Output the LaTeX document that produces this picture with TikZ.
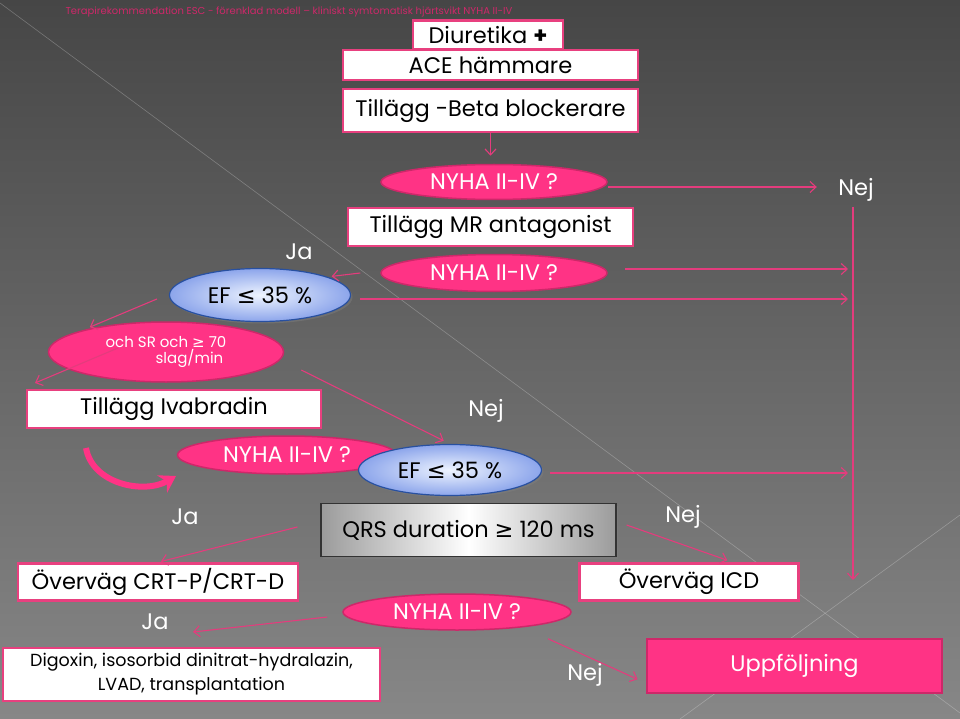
\documentclass[tikz,border=0pt]{standalone}
\usepackage{fontspec}
\setmainfont{Poppins}
\newfontfamily\symfont{DejaVu Sans}
\usetikzlibrary{shapes.geometric,arrows.meta,shadows}
\definecolor{bgtop}{RGB}{70,70,70}
\definecolor{bgbot}{RGB}{135,135,135}
\definecolor{boxpink}{RGB}{232,64,127}
\definecolor{qpink}{RGB}{255,51,133}
\definecolor{qedge}{RGB}{205,40,105}
\definecolor{arrpink}{RGB}{228,60,125}
\definecolor{titlepink}{RGB}{205,40,105}
\definecolor{efblue}{RGB}{40,80,160}
\definecolor{efin}{RGB}{238,244,255}
\definecolor{efout}{RGB}{140,165,235}
\definecolor{qrsgray}{RGB}{155,155,155}
\newcommand{\symle}{{\symfont ≤}}
\newcommand{\symge}{{\symfont ≥}}
\begin{document}
\begin{tikzpicture}[x=1pt,y=-1pt,
  txt/.style={font=\fontsize{22.5}{25}\selectfont},
  box/.style={txt, draw=boxpink, line width=2.5pt, fill=white, text=black, inner sep=0pt},
  quest/.style={txt, ellipse, draw=qedge, line width=1.5pt, fill=qpink, text=white, inner sep=0pt},
  efell/.style={txt, ellipse, draw=efblue, line width=1.2pt, inner color=efin, outer color=efout, inner sep=0pt,
    drop shadow={opacity=0.45, shadow xshift=2pt, shadow yshift=-2pt}},
  lab/.style={txt, text=white},
  arr/.style={draw=arrpink, line width=1.1pt, -{Straight Barb[length=6pt,width=11pt]}},
  bigarr/.style={draw=qpink, line width=6pt, -{Stealth[length=16pt,width=20pt]}},
  bgline/.style={draw=white, opacity=0.25, line width=0.6pt}]
\useasboundingbox (0,0) rectangle (960,719);
\shade[top color=bgtop, bottom color=bgbot] (0,0) rectangle (960,719);
\draw[bgline] (0,3) -- (960,713);
\draw[bgline] (680,719) -- (960,515);
\draw (62, 12) node[anchor=west, text=titlepink, font=\fontsize{10}{12}\selectfont] (title) {Terapirekommendation ESC -  förenklad modell – kliniskt symtomatisk hjärtsvikt NYHA II-IV};
\draw (488, 35) node[box, minimum width=150pt, minimum height=29pt] (diur) {Diuretika \textbf{+}};
\draw (490.5, 65) node[box, minimum width=295pt, minimum height=30pt] (ace) {ACE hämmare};
\draw (490.5, 110.5) node[box, minimum width=295pt, minimum height=43pt] (beta) {Tillägg -Beta blockerare};
\draw (494, 182) node[quest, minimum width=226pt, minimum height=35pt] (nyha1) {NYHA II-IV ?};
\draw (490.5, 227) node[box, minimum width=285pt, minimum height=38pt] (mr) {Tillägg MR antagonist};
\draw (494, 273) node[quest, minimum width=226pt, minimum height=37pt] (nyha2) {NYHA II-IV ?};
\draw (260, 295) node[efell, minimum width=181pt, minimum height=53pt] (ef1) {EF \symle\ 35 \%};
\draw (166, 352) node[quest, minimum width=235pt, minimum height=60pt, align=left, font=\fontsize{15}{16}\selectfont] (sr) {och SR och \symge\ 70\\\hspace*{50pt}slag/min};
\draw (174, 409) node[box, minimum width=294pt, minimum height=38pt] (ivab) {Tillägg Ivabradin};
\draw (287, 455) node[quest, minimum width=219pt, minimum height=38pt] (nyha3) {NYHA II-IV ?};
\draw (450, 470) node[efell, minimum width=183pt, minimum height=51pt] (ef2) {EF \symle\ 35 \%};
\draw (468.5, 530) node[box, draw=black!80, line width=1.2pt, left color=qrsgray, right color=qrsgray, middle color=white,
  drop shadow={opacity=0.5, shadow xshift=2pt, shadow yshift=-2pt}, minimum width=295pt, minimum height=53pt] (qrs) {QRS duration \symge\ 120 ms};
\draw (158, 582) node[box, minimum width=280pt, minimum height=37pt] (crt) {Överväg CRT-P/CRT-D};
\draw (689, 582) node[box, minimum width=219pt, minimum height=37pt] (icd) {Överväg ICD};
\draw (457, 612) node[quest, minimum width=228pt, minimum height=36pt] (nyha4) {NYHA II-IV ?};
\draw (191.5, 674.5) node[box, minimum width=377pt, minimum height=53pt, align=center, font=\fontsize{17.5}{24}\selectfont] (dig) {Digoxin, isosorbid dinitrat-hydralazin,\\LVAD, transplantation};
\draw (794.5, 666) node[box, draw=qedge, fill=qpink, text=white, minimum width=295pt, minimum height=54pt] (uppf) {Uppföljning};
\draw (856, 190) node[lab] (nej1) {Nej};
\draw (299, 252) node[lab] (ja1) {Ja};
\draw (486, 411) node[lab] (nej2) {Nej};
\draw (185, 517) node[lab] (ja2) {Ja};
\draw (683, 517) node[lab] (nej3) {Nej};
\draw (155, 622) node[lab] (ja3) {Ja};
\draw (585, 675) node[lab] (nej4) {Nej};
\coordinate (bus) at (853, 207);
\coordinate (busend) at (853, 580);
\coordinate (cstart) at (86, 448);
\coordinate (cend) at (176, 476);
\coordinate (ivend) at (35, 383);
\coordinate (jaend) at (193, 632);
\draw[arr, shorten >=8pt] (beta.south) -- (beta.south |- nyha1.north);
\draw[arr, shorten >=18pt] (nyha1.east) ++(0,5) coordinate (s1) -- (s1 -| nej1.west);
\draw[arr, shorten >=5pt] (nyha2.east) ++(17,-4) coordinate (s2) -- (s2 -| bus);
\draw[arr, shorten >=5pt] (ef1.east) ++(9,4) coordinate (s3) -- (s3 -| bus);
\draw[arr, shorten >=5pt] (ef2.east) ++(8,3) coordinate (s4) -- (s4 -| bus);
\draw[arr] (bus) -- (busend);
\draw[arr, shorten >=4pt] (nyha2.west) ++(-20,0) -- (ef1.15);
\draw[arr, shorten >=8pt] (ef1.west) ++(-12,4) -- (sr.north west);
\draw[arr] (sr.center) ++(-48,-4) -- (ivend);
\draw[arr, shorten >=7pt] (sr.east) ++(17,18) -- (ef2.north);
\draw[bigarr] (cstart) to[out=-80, in=210] (cend);
\draw[arr, shorten >=3pt] (qrs.west) ++(-23,-3) -- (crt.north);
\draw[arr, shorten >=6pt] (qrs.east) ++(10,-5) -- ([xshift=44pt]icd.north);
\draw[arr] (nyha4.west) ++(-15,5) -- (jaend);
\draw[arr, shorten >=9pt] (nyha4.south) ++(91,8) -- ([yshift=-17pt]uppf.west);
\end{tikzpicture}
\end{document}
